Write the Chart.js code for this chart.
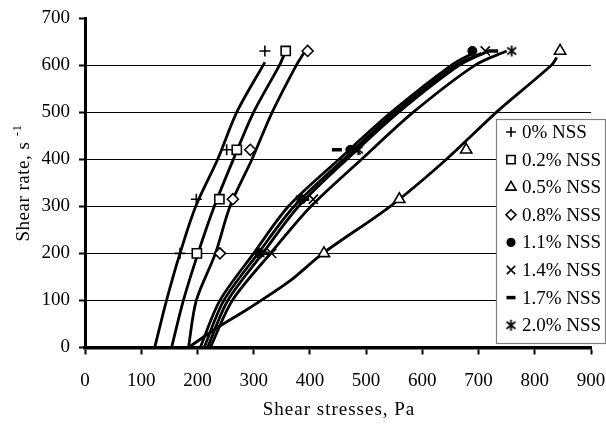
<!DOCTYPE html>
<html>
<head>
<meta charset="utf-8">
<script src="https://cdn.jsdelivr.net/npm/chart.js@4.4.1/dist/chart.umd.min.js"></script>
<style>
  html, body { margin: 0; padding: 0; background: #fff; }
  #wrap { position: relative; width: 606px; height: 428px; }
</style>
</head>
<body>
<div id="wrap"><canvas id="flowChart" width="606" height="428"></canvas></div>
<script>
// measured points: shear rate (s-1) vs shear stress (Pa)
const shearRate = [200, 315, 420, 630];
const stress0 = [169, 198, 252, 320];
const stress02 = [199, 239, 270, 357];
const stress05 = [425, 559, 678, 845];
const stress08 = [240, 263, 294, 396];
const stress11 = [310, 385, 472, 689];
const stress14 = [332, 406, 482, 712];
const stress17 = [318, 390, 448, 726];
const stress20 = [311, 383, 486, 759];

// fitted curves (stress x, rate y)
const fit0X = [124, 145, 169, 197, 236, 270, 317, 320];
const fit0Y = [0, 100, 200, 300, 400, 500, 600, 606];
const fit02X = [154, 175, 201, 230, 264, 300, 346, 356];
const fit02Y = [0, 100, 200, 300, 400, 500, 600, 627];
const fit05X = [184, 235, 294, 365, 423, 543, 643, 732, 830, 839];
const fit05Y = [0, 42, 85, 142, 200, 300, 400, 500, 600, 616];
const fit08X = [184, 198, 232, 258, 297, 333, 376, 391];
const fit08Y = [0, 100, 200, 300, 400, 500, 600, 629];
const fit11X = [205, 240, 300, 362, 452, 545, 652, 690];
const fit11Y = [0, 100, 200, 300, 400, 500, 600, 625];
const fit14X = [212, 247, 308, 372, 460, 552, 660, 705];
const fit14Y = [0, 100, 200, 300, 400, 500, 600, 625];
const fit17X = [218, 254, 316, 380, 466, 558, 666, 718];
const fit17Y = [0, 100, 200, 300, 400, 500, 600, 630];
const fit20X = [223, 262, 330, 402, 492, 584, 694, 750];
const fit20Y = [0, 100, 200, 300, 400, 500, 600, 630];

const seriesNames = ['0% NSS', '0.2% NSS', '0.5% NSS', '0.8% NSS', '1.1% NSS', '1.4% NSS', '1.7% NSS', '2.0% NSS'];
const xTicks = [0, 100, 200, 300, 400, 500, 600, 700, 800, 900];
const yTicks = [0, 100, 200, 300, 400, 500, 600, 700];

const FONT = "'Liberation Serif', 'Times New Roman', serif";

// asterisk marker: x with a vertical bar
function makeAsterisk() {
  const c = document.createElement('canvas');
  c.width = 13; c.height = 13;
  const g = c.getContext('2d');
  g.strokeStyle = '#000';
  g.lineWidth = 1.8;
  g.beginPath();
  g.moveTo(6.5, 1); g.lineTo(6.5, 12);
  g.moveTo(2, 3); g.lineTo(11, 10);
  g.moveTo(11, 3); g.lineTo(2, 10);
  g.stroke();
  return c;
}
const asterisk = makeAsterisk();

const markerStyles = [
  { pointStyle: 'cross', radius: 5.5, fill: '#000', borderWidth: 1.6 },
  { pointStyle: 'rect', radius: 6.5, fill: '#fff', borderWidth: 1.6 },
  { pointStyle: 'triangle', radius: 6.5, fill: '#fff', borderWidth: 1.6 },
  { pointStyle: 'rectRot', radius: 5.5, fill: '#fff', borderWidth: 1.6 },
  { pointStyle: 'circle', radius: 4.5, fill: '#000', borderWidth: 1 },
  { pointStyle: 'crossRot', radius: 6.5, fill: '#000', borderWidth: 1.6 },
  { pointStyle: 'line', radius: 5, fill: '#000', borderWidth: 3.5 },
  { pointStyle: asterisk, radius: 6.5, fill: '#000', borderWidth: 1 }
];

const stressLists = [stress0, stress02, stress05, stress08, stress11, stress14, stress17, stress20];
const fitLists = [
  [fit0X, fit0Y], [fit02X, fit02Y], [fit05X, fit05Y], [fit08X, fit08Y],
  [fit11X, fit11Y], [fit14X, fit14Y], [fit17X, fit17Y], [fit20X, fit20Y]
];

function pairs(xs, ys) {
  return xs.map((x, i) => ({ x: x, y: ys[i] }));
}

let datasets = [];
stressLists.forEach((s, i) => {
  const m = markerStyles[i];
  datasets.push({
    label: seriesNames[i],
    data: pairs(s, shearRate),
    showLine: false,
    pointStyle: m.pointStyle,
    pointRadius: m.radius,
    pointHoverRadius: m.radius,
    pointBackgroundColor: m.fill,
    pointBorderColor: '#000',
    pointBorderWidth: m.borderWidth
  });
});
fitLists.forEach((f, i) => {
  datasets.push({
    label: 'fit ' + seriesNames[i],
    data: pairs(f[0], f[1]),
    showLine: true,
    borderColor: '#000',
    borderWidth: 2.8,
    pointRadius: 0,
    tension: 0.3,
    fill: false
  });
});

const annotatePlugin = {
  id: 'annotate',
  afterDraw(chart) {
    const ctx = chart.ctx;
    const area = chart.chartArea;
    ctx.save();
    ctx.fillStyle = '#000';
    ctx.font = '19px ' + FONT;

    // x title (slightly spaced like the original)
    ctx.textAlign = 'center';
    ctx.textBaseline = 'middle';
    ctx.letterSpacing = '1px';
    ctx.fillText('Shear stresses, Pa', (area.left + area.right) / 2 + 1, 410);
    ctx.letterSpacing = '0px';

    // y title with superscript
    ctx.save();
    ctx.translate(24, 183);
    ctx.rotate(-Math.PI / 2);
    ctx.letterSpacing = '0.5px';
    const main = 'Shear rate, s ';
    const wMain = ctx.measureText(main).width;
    ctx.font = '13px ' + FONT;
    const wSup = ctx.measureText('-1').width;
    const start = -(wMain + wSup) / 2;
    ctx.textAlign = 'left';
    ctx.font = '19px ' + FONT;
    ctx.fillText(main, start, 0);
    ctx.font = '13px ' + FONT;
    ctx.fillText('-1', start + wMain, -6);
    ctx.letterSpacing = '0px';
    ctx.restore();

    // legend
    const lx = 496, ly = 119, lw = 109, lh = 224;
    ctx.fillStyle = '#fff';
    ctx.fillRect(lx, ly, lw, lh);
    ctx.strokeStyle = '#808080';
    ctx.lineWidth = 1.2;
    ctx.strokeRect(lx + 0.5, ly + 0.5, lw, lh);
    ctx.font = '19px ' + FONT;
    ctx.textAlign = 'left';
    ctx.textBaseline = 'middle';
    seriesNames.forEach((name, i) => {
      const y = 132 + i * 27.6;
      const m = markerStyles[i];
      ctx.strokeStyle = '#000';
      ctx.fillStyle = m.fill;
      if (typeof m.pointStyle === 'string') {
        ctx.lineWidth = m.borderWidth;
        Chart.helpers.drawPoint(ctx, {
          pointStyle: m.pointStyle,
          radius: m.radius * 0.9,
          rotation: 0,
          borderWidth: m.borderWidth
        }, 511, y);
      } else {
        ctx.drawImage(m.pointStyle, 511 - 6.5, y - 6.5);
      }
      ctx.fillStyle = '#000';
      ctx.fillText(name, 522, y + 1);
    });
    ctx.restore();
  }
};

const ctx = document.getElementById('flowChart').getContext('2d');
window.myChart = new Chart(ctx, {
  type: 'scatter',
  data: { datasets: datasets },
  plugins: [annotatePlugin],
  options: {
    responsive: false,
    animation: false,
    events: [],
    layout: { padding: { top: 18, right: 15, left: 0, bottom: 0 } },
    plugins: {
      legend: { display: false },
      tooltip: { enabled: false },
      title: { display: false }
    },
    scales: {
      x: {
        type: 'linear',
        min: 0,
        max: 900,
        afterBuildTicks: (scale) => { scale.ticks = xTicks.map(v => ({ value: v })); },
        afterFit: (scale) => {
          scale.height = 80.5;
          scale.paddingLeft = 0;
          scale.paddingRight = 0;
        },
        ticks: {
          color: '#000',
          font: { family: FONT, size: 19 },
          padding: 15,
          maxRotation: 0
        },
        grid: {
          drawOnChartArea: false,
          drawTicks: true,
          tickLength: 7,
          tickWidth: 2,
          tickColor: '#000'
        },
        border: { color: '#000', width: 3.5 }
      },
      y: {
        type: 'linear',
        min: 0,
        max: 700,
        afterBuildTicks: (scale) => { scale.ticks = yTicks.map(v => ({ value: v })); },
        afterFit: (scale) => {
          scale.width = 85;
          scale.paddingTop = 0;
          scale.paddingBottom = 0;
        },
        ticks: {
          color: '#000',
          font: { family: FONT, size: 19 },
          padding: 9
        },
        grid: {
          color: (c) => (c.tick && (c.tick.value === 700 || c.tick.value === 0)) ? 'rgba(0,0,0,0)' : '#000',
          lineWidth: 1,
          drawTicks: true,
          tickLength: 6,
          tickWidth: 2,
          tickColor: '#000'
        },
        border: { color: '#000', width: 3 }
      }
    }
  }
});
</script>
</body>
</html>
